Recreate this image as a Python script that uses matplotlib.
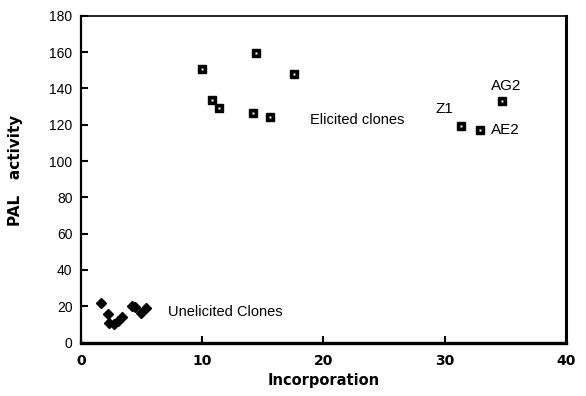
import numpy as np
import matplotlib
matplotlib.use("Agg")
import matplotlib.pyplot as plt

plt.rcParams['font.family'] = ['Liberation Sans', 'DejaVu Sans']

# elicited clones (squares)
elicitedX = [10.0, 10.85, 11.4, 14.45, 14.2, 15.6, 17.55, 31.3, 32.9, 34.7]
elicitedY = [150.5, 133.5, 129, 159.5, 126.5, 124, 148, 119.2, 117.3, 133.2]

# unelicited clones (diamonds)
unelicitedX = [1.7, 2.2, 2.35, 2.75, 3.08, 3.36, 4.2, 4.5, 4.93, 5.37]
unelicitedY = [21.6, 15.7, 10.6, 10.0, 12.0, 13.9, 20.3, 19.4, 16.5, 18.9]

# point labels
pointNames = ["Z1", "AE2", "AG2"]
pointNameX = [29.95, 33.8, 35.1]
pointNameY = [128.8, 117.3, 141.3]

xTicks = [0, 10, 20, 30, 40]
yTicks = [0, 20, 40, 60, 80, 100, 120, 140, 160, 180]

fig = plt.figure(figsize=(5.86, 3.96), dpi=100)
ax = fig.add_axes([0.138, 0.135, 0.828, 0.825])

#Plotting the two groups
ax.plot(elicitedX, elicitedY, linestyle='none', marker='s', markersize=5.5,
        markerfacecolor='black', markeredgecolor='black', zorder=3)
ax.plot(elicitedX, elicitedY, linestyle='none', marker='s', markersize=2,
        markerfacecolor='white', markeredgecolor='none', zorder=4)
ax.plot(unelicitedX, unelicitedY, linestyle='none', marker='D', markersize=5,
        color='black', zorder=3)

#labels in the plot
ax.text(18.9, 122.5, "Elicited clones", fontsize=10.5, va='center', ha='left')
ax.text(7.2, 17, "Unelicited Clones", fontsize=10.5, va='center', ha='left')
for name, nx, ny in zip(pointNames, pointNameX, pointNameY):
    ha = 'left' if name == "AE2" else 'center'
    ax.text(nx, ny, name, fontsize=11, va='center', ha=ha)

ax.set_xlim(0, 40)
ax.set_ylim(0, 180)
ax.set_xticks(xTicks)
ax.set_yticks(yTicks)
ax.set_xticklabels([str(t) for t in xTicks], fontsize=10, fontweight='bold',
                   family='DejaVu Sans')
ax.set_yticklabels([str(t) for t in yTicks], fontsize=10)
ax.tick_params(axis='both', direction='in', length=5, width=1.5, pad=6)
ax.tick_params(axis='x', pad=8)

ax.spines['left'].set_linewidth(1.6)
ax.spines['bottom'].set_linewidth(2.4)
ax.spines['right'].set_linewidth(2.2)
ax.spines['top'].set_linewidth(1.2)

ax.set_xlabel("Incorporation", fontsize=10.5, fontweight='bold', family='DejaVu Sans')
ax.set_ylabel("PAL   activity", fontsize=11, fontweight='bold', family='DejaVu Sans')
ax.xaxis.set_label_coords(0.5, -0.093)
ax.yaxis.set_label_coords(-0.12, 0.528)

fig.savefig("out.png", dpi=100)
